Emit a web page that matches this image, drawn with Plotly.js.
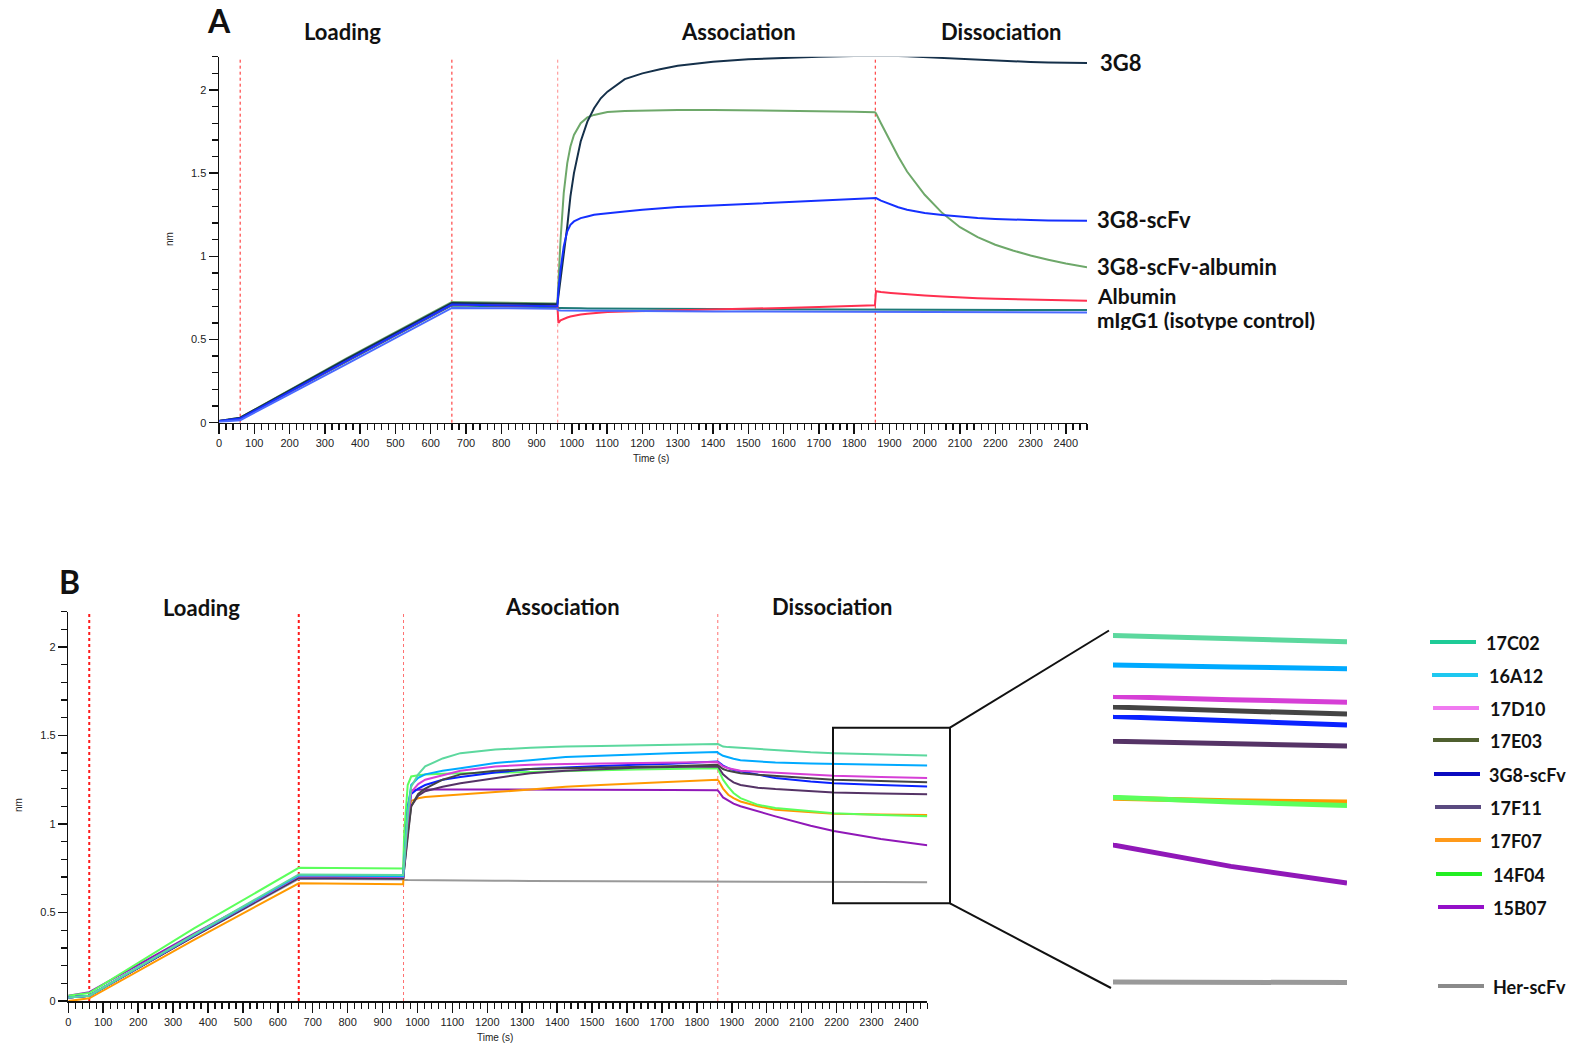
<!DOCTYPE html>
<html><head><meta charset="utf-8">
<script src="https://cdn.plot.ly/plotly-3.0.1.min.js"></script>
<style>html,body{margin:0;padding:0;background:#fff}</style>
</head><body><div id="chart" style="width:1574px;height:1049px"></div>
<script>
// ---------- Panel A data ----------
const timeA = [0, 60, 360, 660, 959, 962, 968, 977, 987, 996, 1006, 1025, 1044, 1063, 1082, 1101, 1150, 1200, 1250, 1300, 1400, 1500, 1600, 1700, 1800, 1859, 1862, 1876, 1904, 1925, 1950, 2000, 2050, 2100, 2150, 2200, 2250, 2300, 2350, 2400, 2460];
const a3G8 = [0.01, 0.03, 0.38, 0.72, 0.712, 0.76, 0.88, 1.02, 1.18, 1.36, 1.50, 1.69, 1.81, 1.89, 1.95, 1.99, 2.065, 2.10, 2.125, 2.145, 2.17, 2.185, 2.193, 2.20, 2.204, 2.206, 2.206, 2.206, 2.205, 2.204, 2.202, 2.197, 2.192, 2.186, 2.18, 2.175, 2.171, 2.168, 2.165, 2.163, 2.162];
const a3G8scFvAlb = [0.01, 0.03, 0.385, 0.725, 0.717, 0.85, 1.10, 1.38, 1.56, 1.66, 1.73, 1.80, 1.835, 1.85, 1.86, 1.868, 1.874, 1.877, 1.879, 1.88, 1.88, 1.878, 1.876, 1.872, 1.869, 1.866, 1.86, 1.80, 1.68, 1.60, 1.51, 1.37, 1.26, 1.175, 1.115, 1.07, 1.035, 1.005, 0.98, 0.957, 0.935];
const a3G8scFv = [0.01, 0.025, 0.37, 0.71, 0.70, 0.80, 0.92, 1.06, 1.15, 1.19, 1.21, 1.23, 1.24, 1.25, 1.255, 1.26, 1.27, 1.28, 1.29, 1.297, 1.305, 1.315, 1.325, 1.333, 1.342, 1.35, 1.35, 1.335, 1.31, 1.295, 1.28, 1.26, 1.248, 1.238, 1.23, 1.225, 1.22, 1.218, 1.216, 1.215, 1.214];
const aAlbumin = [0.01, 0.025, 0.37, 0.71, 0.70, 0.60, 0.615, 0.625, 0.632, 0.638, 0.643, 0.65, 0.655, 0.659, 0.662, 0.665, 0.668, 0.67, 0.672, 0.675, 0.68, 0.685, 0.69, 0.696, 0.702, 0.706, 0.79, 0.785, 0.78, 0.776, 0.772, 0.765, 0.758, 0.752, 0.748, 0.745, 0.742, 0.739, 0.737, 0.735, 0.733];
const aIgG1a = [0.01, 0.025, 0.365, 0.705, 0.694, 0.69, 0.69, 0.689, 0.689, 0.688, 0.688, 0.688, 0.687, 0.687, 0.687, 0.686, 0.686, 0.685, 0.685, 0.684, 0.683, 0.682, 0.681, 0.681, 0.68, 0.68, 0.68, 0.68, 0.68, 0.679, 0.679, 0.679, 0.679, 0.678, 0.678, 0.678, 0.678, 0.677, 0.677, 0.677, 0.677];
const aIgG1b = [0.005, 0.015, 0.35, 0.69, 0.685, 0.675, 0.674, 0.674, 0.673, 0.673, 0.673, 0.672, 0.672, 0.672, 0.671, 0.671, 0.671, 0.67, 0.67, 0.67, 0.669, 0.668, 0.668, 0.667, 0.667, 0.666, 0.666, 0.666, 0.666, 0.665, 0.665, 0.665, 0.665, 0.664, 0.664, 0.664, 0.663, 0.663, 0.663, 0.662, 0.662];
const labelsA = ["3G8", "3G8-scFv", "3G8-scFv-albumin", "Albumin", "mIgG1 (isotype control)"];

// ---------- Panel B data ----------
const timeB = [0, 60, 360, 660, 959, 962, 972, 982, 1002, 1022, 1072, 1123, 1223, 1323, 1424, 1524, 1624, 1725, 1859, 1862, 1875, 1890, 1905, 1925, 1975, 2025, 2126, 2192, 2327, 2460];
const b17C02 = [0.02, 0.03, 0.375, 0.715, 0.712, 0.80, 1.05, 1.21, 1.28, 1.325, 1.37, 1.40, 1.42, 1.43, 1.438, 1.441, 1.445, 1.448, 1.452, 1.45, 1.437, 1.434, 1.432, 1.43, 1.423, 1.416, 1.405, 1.40, 1.393, 1.387];
const b16A12 = [0.02, 0.03, 0.372, 0.71, 0.705, 0.80, 1.08, 1.22, 1.26, 1.28, 1.30, 1.315, 1.344, 1.36, 1.378, 1.385, 1.394, 1.40, 1.406, 1.40, 1.385, 1.375, 1.368, 1.36, 1.352, 1.347, 1.341, 1.338, 1.334, 1.33];
const b17D10 = [0.02, 0.03, 0.37, 0.705, 0.70, 0.78, 1.02, 1.18, 1.225, 1.25, 1.275, 1.30, 1.325, 1.334, 1.338, 1.34, 1.342, 1.344, 1.35, 1.345, 1.325, 1.315, 1.308, 1.30, 1.295, 1.29, 1.28, 1.272, 1.265, 1.26];
const b17E03 = [0.02, 0.03, 0.368, 0.70, 0.695, 0.75, 0.95, 1.10, 1.17, 1.20, 1.25, 1.28, 1.30, 1.31, 1.315, 1.318, 1.322, 1.326, 1.334, 1.33, 1.31, 1.30, 1.295, 1.287, 1.278, 1.27, 1.258, 1.25, 1.242, 1.235];
const b3G8scFv = [0.02, 0.03, 0.368, 0.70, 0.698, 0.78, 1.02, 1.17, 1.20, 1.22, 1.25, 1.265, 1.29, 1.31, 1.32, 1.328, 1.334, 1.34, 1.353, 1.35, 1.33, 1.315, 1.305, 1.297, 1.278, 1.26, 1.24, 1.23, 1.22, 1.212];
const b17F11 = [0.02, 0.03, 0.365, 0.695, 0.69, 0.75, 0.95, 1.10, 1.16, 1.185, 1.21, 1.23, 1.26, 1.287, 1.30, 1.31, 1.318, 1.322, 1.325, 1.32, 1.28, 1.255, 1.235, 1.22, 1.205, 1.197, 1.185, 1.178, 1.172, 1.168];
const b17F07 = [0.0, 0.015, 0.345, 0.665, 0.66, 0.80, 1.05, 1.13, 1.145, 1.152, 1.16, 1.168, 1.18, 1.195, 1.21, 1.22, 1.23, 1.24, 1.25, 1.245, 1.20, 1.165, 1.146, 1.127, 1.10, 1.08, 1.065, 1.058, 1.053, 1.05];
const b14F04 = [0.03, 0.045, 0.41, 0.752, 0.748, 0.95, 1.22, 1.268, 1.275, 1.28, 1.284, 1.287, 1.29, 1.293, 1.30, 1.303, 1.308, 1.31, 1.315, 1.305, 1.25, 1.21, 1.175, 1.146, 1.108, 1.09, 1.07, 1.06, 1.05, 1.043];
const b15B07 = [0.03, 0.05, 0.38, 0.70, 0.695, 0.85, 1.10, 1.19, 1.193, 1.195, 1.195, 1.195, 1.194, 1.193, 1.193, 1.193, 1.193, 1.192, 1.19, 1.185, 1.15, 1.13, 1.115, 1.10, 1.07, 1.043, 0.99, 0.96, 0.915, 0.88];
const bHer = [0.02, 0.03, 0.365, 0.69, 0.686, 0.684, 0.683, 0.683, 0.682, 0.682, 0.681, 0.68, 0.679, 0.678, 0.677, 0.676, 0.675, 0.675, 0.674, 0.676, 0.676, 0.676, 0.675, 0.675, 0.674, 0.674, 0.673, 0.672, 0.672, 0.671];
const namesB = ["17C02", "16A12", "17D10", "17E03", "3G8-scFv", "17F11", "17F07", "14F04", "15B07", "Her-scFv"];
const phaseMarks = [60, 660, 960, 1860];
const phaseNames = ["Loading", "Association", "Dissociation"];

// ---------- layout helpers (pixel -> paper) ----------
const W = 1574, H = 1049;
const px = x => x / W, py = y => 1 - y / H;
const BOLD = "Lato, 'Open Sans', sans-serif";
const TICKF = "'Liberation Sans Narrow', 'Arial Narrow', 'Liberation Sans', Arial, sans-serif";

const traces = [];
function addA(y, color, name) {
  traces.push({x: timeA, y: y, type: 'scatter', mode: 'lines', name: name, xaxis: 'x', yaxis: 'y',
    line: {color: color, width: 2}, hoverinfo: 'skip'});
}
addA(aIgG1a, '#1e7a78', labelsA[4]);
addA(aAlbumin, '#ff3050', labelsA[3]);
addA(a3G8scFvAlb, '#6ea86a', labelsA[2]);
addA(a3G8, '#15304a', labelsA[0]);
addA(a3G8scFv, '#1530ff', labelsA[1]);
addA(aIgG1b, '#4a6aff', labelsA[4]);

const seriesB = [b17C02, b16A12, b17D10, b17E03, b3G8scFv, b17F11, b17F07, b14F04, b15B07, bHer];
const lineColB = ['#5cd89e', '#00aaff', '#d63fd6', '#444444', '#0a22ff', '#553366', '#ff9900', '#5cff5c', '#9018b8', '#999999'];
const legColB = ['#1ecb97', '#1ec8f0', '#f07af0', '#4f5f2f', '#0a0ac0', '#5a4a80', '#ff9a1a', '#22ee22', '#9410c8', '#8a8a8a'];
const orderB = [9, 8, 6, 7, 5, 4, 3, 2, 1, 0];
orderB.forEach(i => {
  traces.push({x: timeB, y: seriesB[i], type: 'scatter', mode: 'lines', name: namesB[i], xaxis: 'x2', yaxis: 'y2',
    line: {color: lineColB[i], width: 2}, hoverinfo: 'skip'});
});
orderB.forEach(i => {
  traces.push({x: timeB, y: seriesB[i], type: 'scatter', mode: 'lines', name: namesB[i], xaxis: 'x3', yaxis: 'y3',
    line: {color: lineColB[i], width: 5}, hoverinfo: 'skip', cliponaxis: true});
});

function axisX(dom, anchor) {
  return {domain: dom, anchor: anchor, range: [0, 2460], showgrid: false, zeroline: false,
    showline: true, linecolor: '#111', linewidth: 1.5, ticks: 'outside', ticklen: 10, tickwidth: 1.5, tickcolor: '#111',
    tick0: 0, dtick: 100, tickfont: {family: TICKF, size: 11, color: '#222'},
    minor: {ticks: 'outside', dtick: 20, ticklen: 6, tickwidth: 1.3, tickcolor: '#111'}};
}
function axisY(dom, anchor) {
  return {domain: dom, anchor: anchor, range: [0, 2.2], showgrid: false, zeroline: false,
    showline: true, linecolor: '#111', linewidth: 1.5, ticks: 'outside', ticklen: 9, tickwidth: 1.5, tickcolor: '#111',
    tick0: 0, dtick: 0.5, tickfont: {family: TICKF, size: 11, color: '#222'},
    minor: {ticks: 'outside', dtick: 0.1, ticklen: 6, tickwidth: 1.3, tickcolor: '#111'}};
}

const shapes = [];
const annotations = [];
// phase lines
phaseMarks.forEach((t, k) => {
  shapes.push({type: 'line', xref: 'x', yref: 'y domain', x0: t, x1: t, y0: 0, y1: 1,
    line: {color: k === 2 ? '#ff8a8a' : '#ff2020', width: 1, dash: 'dot'}, layer: 'below'});
  shapes.push({type: 'line', xref: 'x2', yref: 'y2 domain', x0: t, x1: t, y0: 0, y1: 1,
    line: {color: k < 2 ? '#ff1a1a' : '#ff7070', width: k < 2 ? 2 : 1, dash: 'dot'}, layer: 'below'});
});
// zoom box + connectors
shapes.push({type: 'rect', xref: 'paper', yref: 'paper', x0: px(833), x1: px(950), y0: py(903.3), y1: py(727.7),
  line: {color: '#111', width: 2}});
shapes.push({type: 'line', xref: 'paper', yref: 'paper', x0: px(950), y0: py(727.7), x1: px(1109), y1: py(630.5),
  line: {color: '#111', width: 2}});
shapes.push({type: 'line', xref: 'paper', yref: 'paper', x0: px(950), y0: py(903.3), x1: px(1111), y1: py(988),
  line: {color: '#111', width: 2}});

// legend B
const legY = [642, 675, 708, 740, 774, 807, 840, 874, 907, 986];
const legX0 = [1430, 1432, 1433, 1433, 1434, 1435, 1435, 1436, 1438, 1438];
const legTX = [1484, 1487, 1488, 1488, 1487, 1488, 1488, 1491, 1491, 1491];
namesB.forEach((n, i) => {
  shapes.push({type: 'line', xref: 'paper', yref: 'paper', x0: px(legX0[i]), x1: px(legX0[i] + 46),
    y0: py(legY[i]), y1: py(legY[i]), line: {color: legColB[i], width: 4}});
  annotations.push({xref: 'paper', yref: 'paper', x: px(legTX[i]), y: py(legY[i] + 1), xanchor: 'left', yanchor: 'middle',
    text: '<b>' + n + '</b>', showarrow: false, font: {family: BOLD, size: 18, color: '#111'}});
});

function txt(x, y, t, size, xanchor, extra) {
  annotations.push(Object.assign({xref: 'paper', yref: 'paper', x: px(x), y: py(y), xanchor: xanchor || 'center', yanchor: 'middle',
    text: t, showarrow: false, font: {family: BOLD, size: size, color: '#111'}}, extra || {}));
}
txt(219, 21, '<b>A</b>', 32);
txt(69, 581, '<b>B</b>', 32);
txt(342, 31, '<b>' + phaseNames[0] + '</b>', 22);
txt(738, 31, '<b>' + phaseNames[1] + '</b>', 22);
txt(1001, 31, '<b>' + phaseNames[2] + '</b>', 22);
txt(201, 607, '<b>' + phaseNames[0] + '</b>', 22);
txt(562, 606, '<b>' + phaseNames[1] + '</b>', 22);
txt(832, 606, '<b>' + phaseNames[2] + '</b>', 22);
const labAY = [63, 219, 266, 295, 319];
const labAX = [1098, 1095, 1095, 1095, 1095];
const labAS = [22, 22, 22, 21, 21];
labelsA.forEach((l, i) => txt(labAX[i], labAY[i], '<b>' + l + '</b>', labAS[i], 'left', i >= 3 ? {height: 22, yanchor: 'middle'} : {}));
// axis titles
const small = {font: {family: "'Liberation Sans', Arial, sans-serif", size: 10, color: '#222'}};
txt(651, 458, 'Time (s)', 10, 'center', small);
txt(495, 1037, 'Time (s)', 10, 'center', small);
txt(169, 239, 'nm', 10, 'center', Object.assign({textangle: -90}, small));
txt(18, 805, 'nm', 10, 'center', Object.assign({textangle: -90}, small));

const layout = {
  width: W, height: H, margin: {l: 0, r: 0, t: 0, b: 0}, paper_bgcolor: '#fff', plot_bgcolor: 'rgba(0,0,0,0)',
  showlegend: false,
  xaxis: axisX([px(219), px(1087)], 'y'),
  yaxis: axisY([py(422.7), py(56.7)], 'x'),
  xaxis2: axisX([px(68.3), px(927.3)], 'y2'),
  yaxis2: axisY([py(1001), py(611.5)], 'x2'),
  xaxis3: {domain: [px(1113), px(1347)], anchor: 'y3', range: [2192, 2460], visible: false, fixedrange: true},
  yaxis3: {domain: [py(1000), py(620)], anchor: 'x3', range: [0.6343, 1.4326], visible: false, fixedrange: true},
  shapes: shapes, annotations: annotations
};
Plotly.newPlot('chart', traces, layout, {staticPlot: true, displayModeBar: false});
</script>
</body></html>
